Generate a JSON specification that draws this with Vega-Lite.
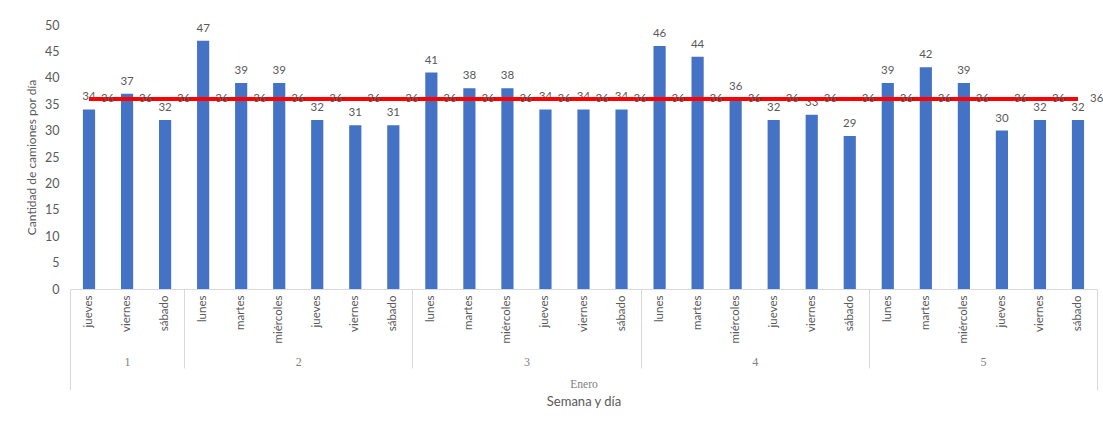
{
  "$schema": "https://vega.github.io/schema/vega-lite/v6.json",
  "width": 1027,
  "height": 264,
  "autosize": {"type": "none"},
  "padding": {"left": 70, "top": 25, "right": 6, "bottom": 133},
  "background": "#ffffff",
  "config": {
    "view": {"stroke": null},
    "font": "Lato",
    "axis": {"grid": false, "labelColor": "#595959", "titleColor": "#595959", "labelFont": "Lato", "titleFont": "Lato", "titleFontWeight": "normal"}
  },
  "data": {
    "values": [
      {"semana": 1, "dia": "jueves", "camiones": 34, "promedio": 36},
      {"semana": 1, "dia": "viernes", "camiones": 37, "promedio": 36},
      {"semana": 1, "dia": "sábado", "camiones": 32, "promedio": 36},
      {"semana": 2, "dia": "lunes", "camiones": 47, "promedio": 36},
      {"semana": 2, "dia": "martes", "camiones": 39, "promedio": 36},
      {"semana": 2, "dia": "miércoles", "camiones": 39, "promedio": 36},
      {"semana": 2, "dia": "jueves", "camiones": 32, "promedio": 36},
      {"semana": 2, "dia": "viernes", "camiones": 31, "promedio": 36},
      {"semana": 2, "dia": "sábado", "camiones": 31, "promedio": 36},
      {"semana": 3, "dia": "lunes", "camiones": 41, "promedio": 36},
      {"semana": 3, "dia": "martes", "camiones": 38, "promedio": 36},
      {"semana": 3, "dia": "miércoles", "camiones": 38, "promedio": 36},
      {"semana": 3, "dia": "jueves", "camiones": 34, "promedio": 36},
      {"semana": 3, "dia": "viernes", "camiones": 34, "promedio": 36},
      {"semana": 3, "dia": "sábado", "camiones": 34, "promedio": 36},
      {"semana": 4, "dia": "lunes", "camiones": 46, "promedio": 36},
      {"semana": 4, "dia": "martes", "camiones": 44, "promedio": 36},
      {"semana": 4, "dia": "miércoles", "camiones": 36, "promedio": 36},
      {"semana": 4, "dia": "jueves", "camiones": 32, "promedio": 36},
      {"semana": 4, "dia": "viernes", "camiones": 33, "promedio": 36},
      {"semana": 4, "dia": "sábado", "camiones": 29, "promedio": 36},
      {"semana": 5, "dia": "lunes", "camiones": 39, "promedio": 36},
      {"semana": 5, "dia": "martes", "camiones": 42, "promedio": 36},
      {"semana": 5, "dia": "miércoles", "camiones": 39, "promedio": 36},
      {"semana": 5, "dia": "jueves", "camiones": 30, "promedio": 36},
      {"semana": 5, "dia": "viernes", "camiones": 32, "promedio": 36},
      {"semana": 5, "dia": "sábado", "camiones": 32, "promedio": 36}
    ]
  },
  "transform": [
    {"calculate": "datum.semana + '|' + datum.dia", "as": "clave"},
    {"window": [{"op": "row_number", "as": "orden"}]},
    {"calculate": "datum.orden - 0.5", "as": "centro"}
  ],
  "layer": [
    {
      "encoding": {
        "x": {
          "field": "clave",
          "type": "nominal",
          "sort": null,
          "scale": {"paddingInner": 0.68, "paddingOuter": 0.34},
          "axis": {
            "orient": "bottom",
            "title": null,
            "labelExpr": "split(datum.value, '|')[1]",
            "labelAngle": -90,
            "labelPadding": 6,
            "labelFontSize": 11.5,
            "labelOverlap": false,
            "ticks": false,
            "domainColor": "#d9d9d9",
            "domainWidth": 1
          }
        }
      },
      "layer": [
        {
          "mark": {"type": "bar", "color": "#4472C4"},
          "encoding": {
            "y": {"field": "camiones", "type": "quantitative", "scale": {"domain": [0, 50], "nice": false}, "axis": null}
          }
        },
        {
          "mark": {"type": "text", "baseline": "alphabetic", "dy": -9, "fontSize": 11.5, "color": "#595959"},
          "encoding": {
            "y": {"field": "camiones", "type": "quantitative", "axis": null},
            "text": {"field": "camiones", "type": "quantitative"}
          }
        },
        {
          "mark": {"type": "line", "color": "#ff0000", "strokeWidth": 4},
          "encoding": {
            "y": {"field": "promedio", "type": "quantitative", "axis": null}
          }
        },
        {
          "mark": {"type": "text", "align": "left", "baseline": "middle", "dx": 12, "fontSize": 11.5, "color": "#595959"},
          "encoding": {
            "y": {"field": "promedio", "type": "quantitative", "axis": null},
            "text": {"field": "promedio", "type": "quantitative"}
          }
        }
      ]
    },
    {
      "mark": {"type": "tick", "opacity": 0},
      "encoding": {
        "y": {
          "field": "camiones",
          "type": "quantitative",
          "scale": {"domain": [0, 50], "nice": false},
          "axis": {
            "orient": "left",
            "title": "Cantidad de camiones por día",
            "values": [0, 5, 10, 15, 20, 25, 30, 35, 40, 45, 50],
            "labelOverlap": false,
            "domain": false,
            "ticks": false,
            "labelPadding": 11,
            "labelFontSize": 12.5,
            "titleFontSize": 12,
            "titlePadding": 6
          }
        }
      }
    },
    {
      "mark": {"type": "tick", "opacity": 0},
      "encoding": {
        "x": {
          "field": "centro",
          "type": "quantitative",
          "scale": {"domain": [0, 27], "nice": false, "zero": false},
          "axis": {
            "orient": "bottom",
            "values": [3, 9, 15, 21],
            "labels": false,
            "domain": false,
            "tickSize": 79,
            "tickColor": "#d9d9d9",
            "tickWidth": 1,
            "title": null
          }
        }
      }
    },
    {
      "mark": {"type": "tick", "opacity": 0},
      "encoding": {
        "x": {
          "field": "centro",
          "type": "quantitative",
          "scale": {"domain": [0, 27], "nice": false, "zero": false},
          "axis": {
            "orient": "bottom",
            "values": [0, 27],
            "labels": false,
            "domain": false,
            "tickSize": 101,
            "tickColor": "#d9d9d9",
            "tickWidth": 1,
            "title": "Semana y día",
            "titleFontSize": 13,
            "titlePadding": 5
          }
        }
      }
    },
    {
      "mark": {"type": "tick", "opacity": 0},
      "encoding": {
        "x": {
          "field": "centro",
          "type": "quantitative",
          "scale": {"domain": [0, 27], "nice": false, "zero": false},
          "axis": {
            "orient": "bottom",
            "values": [1.5, 6, 12, 18, 24],
            "labelExpr": "datum.value == 1.5 ? '1' : datum.value == 6 ? '2' : datum.value == 12 ? '3' : datum.value == 18 ? '4' : '5'",
            "ticks": false,
            "domain": false,
            "labelPadding": 67,
            "labelFlush": false,
            "labelOverlap": false,
            "labelFont": "Liberation Serif",
            "labelFontSize": 12,
            "labelColor": "#808080",
            "title": "Enero",
            "titleFont": "Liberation Serif",
            "titleFontSize": 11.5,
            "titleColor": "#808080",
            "titlePadding": 11
          }
        }
      }
    }
  ],
  "resolve": {"scale": {"x": "independent", "y": "independent"}, "axis": {"x": "independent", "y": "independent"}}
}
